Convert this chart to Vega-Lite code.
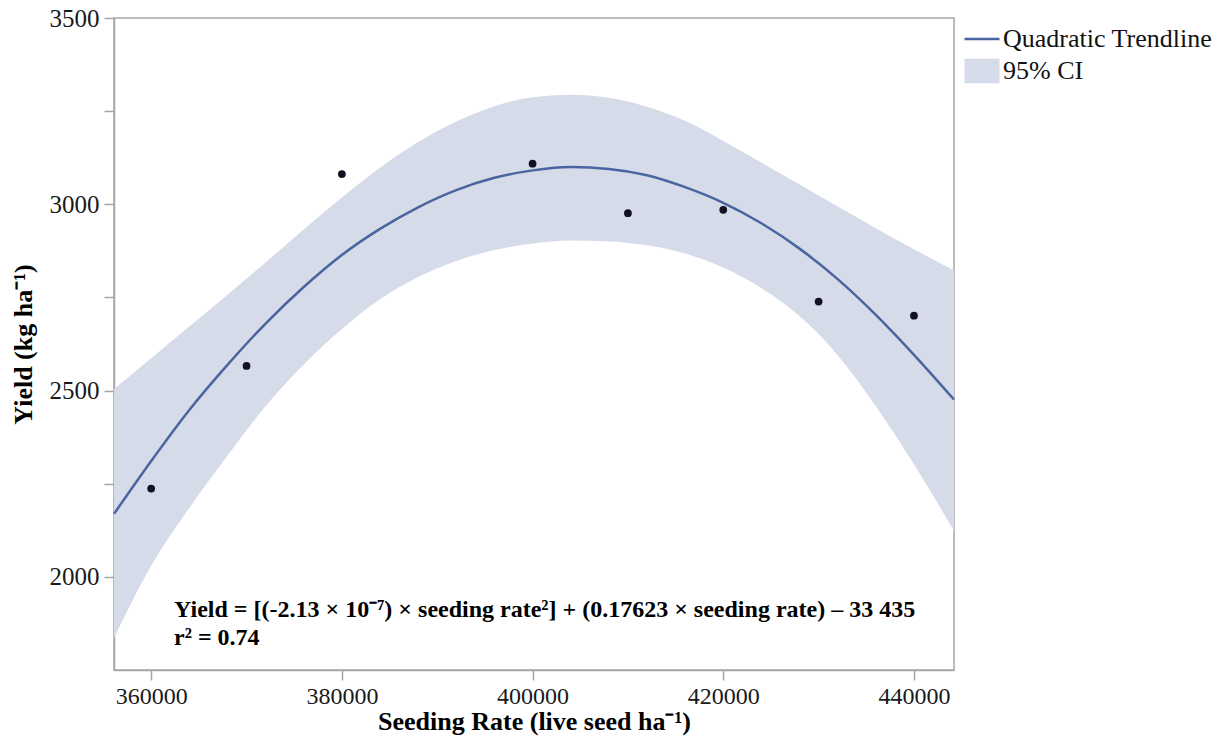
{
  "$schema": "https://vega.github.io/schema/vega-lite/v6.json",
  "width": 840,
  "height": 652,
  "autosize": {"type": "none"},
  "padding": {"left": 114, "top": 18, "right": 268, "bottom": 66},
  "background": "white",
  "config": {
    "font": "Liberation Serif",
    "view": {"stroke": "#A6A6A6", "strokeWidth": 1.5},
    "axis": {
      "grid": false,
      "domainColor": "#A6A6A6",
      "domainWidth": 1.5,
      "tickColor": "#A6A6A6",
      "tickWidth": 1.5,
      "labelFont": "Liberation Serif",
      "labelFontSize": 25,
      "labelColor": "#1a1a1a",
      "labelFlush": false,
      "titleFont": "Liberation Serif",
      "titleFontSize": 26,
      "titleFontWeight": "bold",
      "titleColor": "#000000"
    },
    "legend": {
      "title": null,
      "orient": "none",
      "legendX": 849,
      "legendY": 2,
      "padding": 0,
      "labelFont": "Liberation Serif",
      "labelFontSize": 26,
      "labelColor": "#111111",
      "labelOffset": 2,
      "labelLimit": 400,
      "symbolSize": 1225,
      "rowPadding": -3
    }
  },
  "datasets": {
    "curve": [
      {"rate": 356100, "fit": 2169, "lo": 1836, "hi": 2504},
      {"rate": 360000, "fit": 2311, "lo": 2030, "hi": 2587},
      {"rate": 364000, "fit": 2448, "lo": 2185, "hi": 2672},
      {"rate": 368000, "fit": 2569, "lo": 2325, "hi": 2757},
      {"rate": 372000, "fit": 2680, "lo": 2458, "hi": 2844},
      {"rate": 376000, "fit": 2778, "lo": 2570, "hi": 2932},
      {"rate": 380000, "fit": 2864, "lo": 2665, "hi": 3018},
      {"rate": 384000, "fit": 2934, "lo": 2745, "hi": 3098},
      {"rate": 388000, "fit": 2992, "lo": 2805, "hi": 3167},
      {"rate": 392000, "fit": 3038, "lo": 2848, "hi": 3222},
      {"rate": 396000, "fit": 3071, "lo": 2877, "hi": 3263},
      {"rate": 400000, "fit": 3091, "lo": 2895, "hi": 3287},
      {"rate": 404000, "fit": 3100, "lo": 2903, "hi": 3294},
      {"rate": 408000, "fit": 3095, "lo": 2900, "hi": 3286},
      {"rate": 412000, "fit": 3078, "lo": 2890, "hi": 3262},
      {"rate": 416000, "fit": 3046, "lo": 2868, "hi": 3224},
      {"rate": 420000, "fit": 3004, "lo": 2830, "hi": 3170},
      {"rate": 424000, "fit": 2949, "lo": 2775, "hi": 3112},
      {"rate": 428000, "fit": 2881, "lo": 2700, "hi": 3053},
      {"rate": 432000, "fit": 2799, "lo": 2595, "hi": 2994},
      {"rate": 436000, "fit": 2703, "lo": 2458, "hi": 2936},
      {"rate": 440000, "fit": 2596, "lo": 2302, "hi": 2879},
      {"rate": 444200, "fit": 2476, "lo": 2123, "hi": 2823}
    ],
    "obs": [
      {"rate": 360000, "yield": 2237},
      {"rate": 370000, "yield": 2566},
      {"rate": 380000, "yield": 3081},
      {"rate": 400000, "yield": 3109},
      {"rate": 410000, "yield": 2976},
      {"rate": 420000, "yield": 2985},
      {"rate": 430000, "yield": 2739},
      {"rate": 440000, "yield": 2701}
    ],
    "note": [
      {"x": 362400, "y": 1892, "text": "Yield = [(-2.13 × 10⁻⁷) × seeding rate²] + (0.17623 × seeding rate) – 33 435"},
      {"x": 362400, "y": 1817, "text": "r² = 0.74"}
    ],
    "legendItems": [
      {"series": "Quadratic Trendline"},
      {"series": "95% CI"}
    ]
  },
  "layer": [
    {
      "data": {"name": "curve"},
      "mark": {"type": "area", "interpolate": "monotone", "opacity": 1, "color": "#D5DBE8"},
      "encoding": {
        "x": {
          "field": "rate",
          "type": "quantitative",
          "scale": {"domain": [356100, 444200], "nice": false, "zero": false},
          "axis": {
            "values": [360000, 380000, 400000, 420000, 440000],
            "format": "d",
            "tickSize": 10,
            "labelFontSize": 24,
            "labelPadding": 4,
            "title": "Seeding Rate (live seed ha⁻¹)",
            "titlePadding": 0
          }
        },
        "y": {
          "field": "lo",
          "type": "quantitative",
          "scale": {"domain": [1750, 3500], "nice": false, "zero": false},
          "axis": {
            "values": [2000, 2250, 2500, 2750, 3000, 3250, 3500],
            "labelExpr": "datum.value % 500 === 0 ? datum.label : ''",
            "format": "d",
            "tickSize": 10,
            "labelPadding": 5,
            "title": "Yield (kg ha⁻¹)",
            "titlePadding": 13,
            "encode": {"ticks": {"update": {"x2": {"signal": "datum.value % 500 === 0 ? -10 : -5"}}}}
          }
        },
        "y2": {"field": "hi"}
      }
    },
    {
      "data": {"name": "curve"},
      "mark": {"type": "line", "interpolate": "monotone", "strokeWidth": 2.5, "color": "#4A64A0"},
      "encoding": {
        "x": {"field": "rate", "type": "quantitative"},
        "y": {"field": "fit", "type": "quantitative"}
      }
    },
    {
      "data": {"name": "obs"},
      "mark": {"type": "point", "filled": true, "size": 60, "color": "#111122", "opacity": 1},
      "encoding": {
        "x": {"field": "rate", "type": "quantitative"},
        "y": {"field": "yield", "type": "quantitative"}
      }
    },
    {
      "data": {"name": "note"},
      "mark": {"type": "text", "align": "left", "baseline": "alphabetic", "font": "Liberation Serif", "fontSize": 24, "fontWeight": "bold", "color": "#000000"},
      "encoding": {
        "x": {"field": "x", "type": "quantitative"},
        "y": {"field": "y", "type": "quantitative"},
        "text": {"field": "text"}
      }
    },
    {
      "data": {"name": "legendItems"},
      "mark": {"type": "point", "filled": true, "opacity": 0, "size": 0},
      "encoding": {
        "color": {
          "field": "series",
          "type": "nominal",
          "scale": {"domain": ["Quadratic Trendline", "95% CI"], "range": ["#4A64A0", "#D5DBE8"]},
          "legend": {
            "encode": {
              "symbols": {
                "update": {
                  "shape": {"signal": "datum.value === 'Quadratic Trendline' ? 'stroke' : 'M-1,-0.7H1V0.7H-1Z'"},
                  "fill": {"signal": "datum.value === 'Quadratic Trendline' ? 'transparent' : '#D5DBE8'"},
                  "stroke": {"signal": "datum.value === 'Quadratic Trendline' ? '#4A64A0' : 'transparent'"},
                  "strokeWidth": {"value": 2.5},
                  "opacity": {"value": 1},
                  "size": {"value": 1225}
                }
              }
            }
          }
        }
      }
    }
  ]
}
